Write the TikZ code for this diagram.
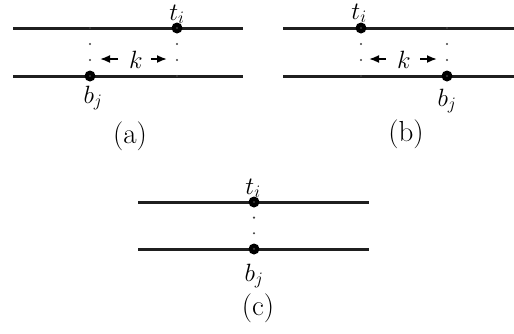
\RequirePackage{fix-cm}
\documentclass[tikz,border=0pt]{standalone}
\usetikzlibrary{arrows.meta}
\begin{document}
\begin{tikzpicture}[x=1pt,y=-1pt,
  rail/.style={line width=3pt,draw=black!88},
  pt/.style={circle,fill=black,inner sep=0pt,minimum size=11pt},
  dots/.style={line width=2.4pt,draw=black!75,line cap=round,dash pattern=on 0pt off 16pt},
  dotsc/.style={line width=2.4pt,draw=black!75,line cap=round,dash pattern=on 0pt off 15.6pt},
  arr/.style={line width=1.8pt,-{Latex[length=10pt,width=8pt]}},
  lab/.style={font=\fontsize{25}{30}\selectfont,inner sep=0pt,anchor=base},
  captxt/.style={font=\fontsize{29}{34}\selectfont,inner sep=0pt,anchor=base}]
\useasboundingbox (0,0) rectangle (514,333);
% ---- (a)
\coordinate (a1) at (13,28); \coordinate (a2) at (243,28);
\coordinate (a3) at (13,76); \coordinate (a4) at (243,76);
\draw[rail] (a1) -- (a2);
\draw[rail] (a3) -- (a4);
\node[pt] (ta) at (177,28) {};
\node[pt] (ba) at (90,76) {};
\coordinate (ta2) at (177,76);
\coordinate (ba2) at (90,28);
\draw[dots] (ta.center) -- (ta2);
\draw[dots] (ba2) -- (ba.center);
\node[lab] (ka) at (136,68) {$k$};
\coordinate (kal0) at (118,59); \coordinate (kal) at (100,59);
\coordinate (kar0) at (151,59); \coordinate (kar) at (167,59);
\draw[arr] (kal0) -- (kal);
\draw[arr] (kar0) -- (kar);
\node[lab] (tla) at (177,20) {$t_i$};
\node[lab] (bla) at (93,103) {$b_j$};
\node[captxt] (capa) at (130,143) {(a)};
% ---- (b)
\coordinate (b1) at (283,28); \coordinate (b2) at (514,28);
\coordinate (b3) at (283,76); \coordinate (b4) at (514,76);
\draw[rail] (b1) -- (b2);
\draw[rail] (b3) -- (b4);
\node[pt] (tb) at (361,28) {};
\node[pt] (bb) at (447,76) {};
\coordinate (tb2) at (361,76);
\coordinate (bb2) at (447,28);
\draw[dots] (tb.center) -- (tb2);
\draw[dots] (bb2) -- (bb.center);
\node[lab] (kb) at (404,68) {$k$};
\coordinate (kbl0) at (386,59); \coordinate (kbl) at (369,59);
\coordinate (kbr0) at (420,59); \coordinate (kbr) at (437,59);
\draw[arr] (kbl0) -- (kbl);
\draw[arr] (kbr0) -- (kbr);
\node[lab] (tlb) at (359,19) {$t_i$};
\node[lab] (blb) at (447,106) {$b_j$};
\node[captxt] (capb) at (406,141) {(b)};
% ---- (c)
\coordinate (c1) at (138,202); \coordinate (c2) at (369,202);
\coordinate (c3) at (138,249); \coordinate (c4) at (369,249);
\draw[rail] (c1) -- (c2);
\draw[rail] (c3) -- (c4);
\node[pt] (tc) at (254,202) {};
\node[pt] (bc) at (254,249) {};
\draw[dotsc] (tc.center) -- (bc.center);
\node[lab] (tlc) at (253,194) {$t_i$};
\node[lab] (blc) at (254,281) {$b_j$};
\node[captxt] (capc) at (258,315) {(c)};
\end{tikzpicture}
\end{document}
